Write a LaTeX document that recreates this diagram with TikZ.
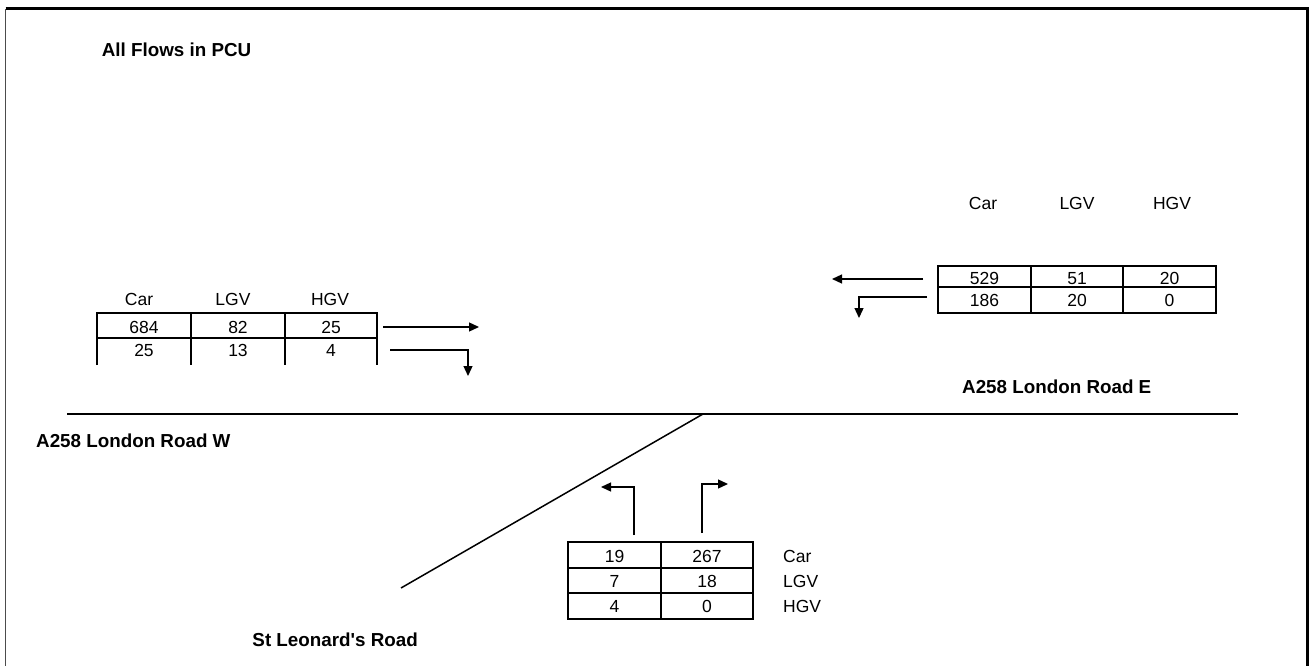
\documentclass[tikz,border=0pt]{standalone}
\usepackage{fontspec}
\newfontfamily\arialf{Liberation Sans}
\usetikzlibrary{arrows.meta}
\begin{document}
\begin{tikzpicture}[x=1pt,y=-1pt,
  txt/.style={font=\arialf\fontsize{17.5}{20}\selectfont, inner sep=0pt, text height=12.5pt, text depth=0pt},
  lbl/.style={font=\arialf\fontsize{18.8}{22}\selectfont\bfseries, inner sep=0pt, text height=13.5pt, text depth=0pt},
  tinner/.style={line width=1.3pt},
  touter/.style={line width=2pt},
  flow/.style={line width=1.3pt, -{Triangle[length=10pt,width=9pt]}},
  road/.style={line width=1.5pt}]
\useasboundingbox (0,0) rectangle (1314,666);
% frame
\draw[line width=1.5pt, black!70] (5.5,9) -- (5.5,666);
\draw[line width=3pt] (5.5,9) -- (1307.5,9) -- (1307.5,666);
% title
\node[lbl, anchor=west] (title) at (101.7,50) {All Flows in PCU};
% roads
\coordinate (rW) at (67,414);
\coordinate (rE) at (1238,414);
\coordinate (sTop) at (703,414);
\coordinate (sBot) at (401,588);
\draw[road] (rW) -- (rE);
\draw[road] (sBot) -- (sTop);
\node[lbl, anchor=west] (labE) at (962,387) {A258 London Road E};
\node[lbl, anchor=west] (labW) at (36,441) {A258 London Road W};
\node[lbl, anchor=east] (labS) at (418,640) {St Leonard's Road};
% left table
\draw[tinner] (97,338) -- (377,338);
\draw[tinner] (191,313) -- (191,365);
\draw[tinner] (285,313) -- (285,365);
\draw[touter] (97,365) -- (97,313) -- (377,313) -- (377,365);
\node[txt] (lhCar) at (139,299) {Car};
\node[txt] (lhLGV) at (233,299) {LGV};
\node[txt] (lhHGV) at (330,299) {HGV};
\node[txt] (l11) at (144,327) {684};
\node[txt] (l12) at (238,327) {82};
\node[txt] (l13) at (331,327) {25};
\node[txt] (l21) at (144,350) {25};
\node[txt] (l22) at (238,350) {13};
\node[txt] (l23) at (331,350) {4};
\coordinate (la1s) at (383,327);
\coordinate (la1e) at (479,327);
\coordinate (la2s) at (390,350);
\coordinate (la2c) at (468,350);
\coordinate (la2e) at (468,376);
\draw[flow] (la1s) -- (la1e);
\draw[flow] (la2s) -- (la2c) -- (la2e);
% right table
\draw[tinner] (938,287) -- (1216,287);
\draw[tinner] (1031,266) -- (1031,313);
\draw[tinner] (1123,266) -- (1123,313);
\draw[touter] (938,266) rectangle (1216,313);
\node[txt] (rhCar) at (983,203) {Car};
\node[txt] (rhLGV) at (1077,203) {LGV};
\node[txt] (rhHGV) at (1172,203) {HGV};
\node[txt] (r11) at (984.5,278.5) {529};
\node[txt] (r12) at (1077,278.5) {51};
\node[txt] (r13) at (1169.5,278.5) {20};
\node[txt] (r21) at (984.5,300) {186};
\node[txt] (r22) at (1077,300) {20};
\node[txt] (r23) at (1169.5,300) {0};
\coordinate (ra1s) at (923,279);
\coordinate (ra1e) at (832,279);
\coordinate (ra2s) at (927,297);
\coordinate (ra2c) at (859,297);
\coordinate (ra2e) at (859,318);
\draw[flow] (ra1s) -- (ra1e);
\draw[flow] (ra2s) -- (ra2c) -- (ra2e);
% bottom table
\draw[tinner] (568,568) -- (753,568);
\draw[tinner] (568,593) -- (753,593);
\draw[tinner] (661,542) -- (661,619);
\draw[touter] (568,542) rectangle (753,619);
\node[txt] (b11) at (614.5,556) {19};
\node[txt] (b12) at (707,556) {267};
\node[txt] (b21) at (614.5,581) {7};
\node[txt] (b22) at (707,581) {18};
\node[txt] (b31) at (614.5,606.5) {4};
\node[txt] (b32) at (707,606.5) {0};
\node[txt, anchor=west] (bCar) at (783,556) {Car};
\node[txt, anchor=west] (bLGV) at (783,581) {LGV};
\node[txt, anchor=west] (bHGV) at (783,606.5) {HGV};
\coordinate (ba1s) at (634,535);
\coordinate (ba1c) at (634,487);
\coordinate (ba1e) at (601,487);
\coordinate (ba2s) at (702,533);
\coordinate (ba2c) at (702,484);
\coordinate (ba2e) at (728,484);
\draw[flow] (ba1s) -- (ba1c) -- (ba1e);
\draw[flow] (ba2s) -- (ba2c) -- (ba2e);
\end{tikzpicture}
\end{document}
